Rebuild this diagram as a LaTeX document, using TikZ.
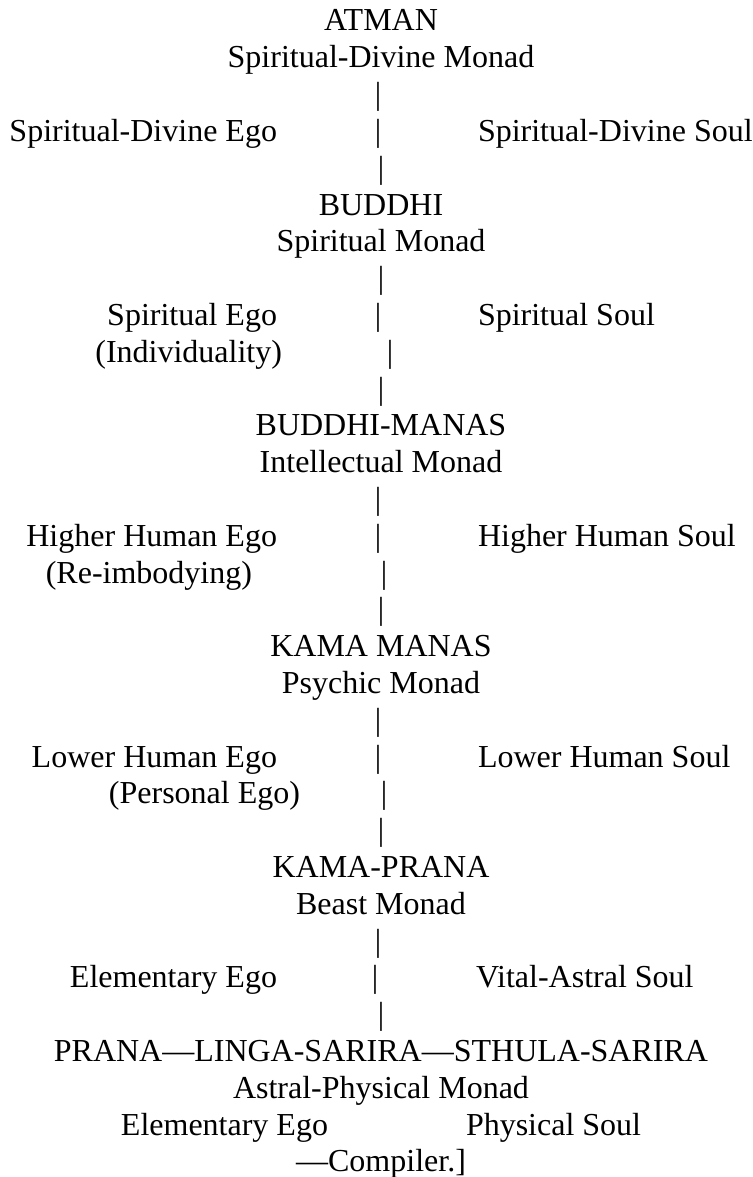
\documentclass[tikz,border=0pt]{standalone}
\usepackage{fontspec}
\setmainfont{Liberation Serif}
\begin{document}
\begin{tikzpicture}[x=1pt,y=-1pt,
  txt/.style={inner sep=0pt, outer sep=0pt, font=\fontsize{32}{38}\selectfont, anchor=base},
  lft/.style={txt, anchor=base east},
  rgt/.style={txt, anchor=base west},
  bar/.style={txt, anchor=base}]
\useasboundingbox (0,0) rectangle (752,1177);
% ATMAN
\node[txt] (atman) at (381,31) {ATMAN};
\node[txt] (atmanm) at (381,67.8) {Spiritual-Divine Monad};
\node[bar] (p1) at (378,104.6) {|};
\node[lft] (sde) at (277,141.4) {Spiritual-Divine Ego};
\node[bar] (p2) at (378,141.4) {|};
\node[rgt] (sds) at (478,141.4) {Spiritual-Divine Soul};
\node[bar] (p3) at (381,178.2) {|};
% BUDDHI
\node[txt] (buddhi) at (381,215) {BUDDHI};
\node[txt] (buddhim) at (381,251.8) {Spiritual Monad};
\node[bar] (p4) at (381,288.6) {|};
\node[lft] (se) at (277,325.4) {Spiritual Ego};
\node[bar] (p5) at (378,325.4) {|};
\node[rgt] (ss) at (478,325.4) {Spiritual Soul};
\node[lft] (ind) at (282,362.2) {(Individuality)};
\node[bar] (p6) at (390,362.2) {|};
\node[bar] (p7) at (381,399) {|};
% BUDDHI-MANAS
\node[txt] (bm) at (381,435.8) {BUDDHI-MANAS};
\node[txt] (bmm) at (381,472.6) {Intellectual Monad};
\node[bar] (p8) at (378,509.4) {|};
\node[lft] (hhe) at (277,546.2) {Higher Human Ego};
\node[bar] (p9) at (378,546.2) {|};
\node[rgt] (hhs) at (478,546.2) {Higher Human Soul};
\node[lft] (reimb) at (252,583) {(Re-imbodying)};
\node[bar] (p10) at (384,583) {|};
\node[bar] (p11) at (381,619.8) {|};
% KAMA MANAS
\node[txt] (km) at (381,656.6) {KAMA MANAS};
\node[txt] (kmm) at (381,693.4) {Psychic Monad};
\node[bar] (p12) at (378,730.2) {|};
\node[lft] (lhe) at (277,767) {Lower Human Ego};
\node[bar] (p13) at (378,767) {|};
\node[rgt] (lhs) at (478,767) {Lower Human Soul};
\node[lft] (pers) at (300,803.8) {(Personal Ego)};
\node[bar] (p14) at (384,803.8) {|};
\node[bar] (p15) at (381,840.6) {|};
% KAMA-PRANA
\node[txt] (kp) at (381,877.4) {KAMA-PRANA};
\node[txt] (kpm) at (381,914.2) {Beast Monad};
\node[bar] (p16) at (378,951) {|};
\node[lft] (ee) at (277,987.8) {Elementary Ego};
\node[bar] (p17) at (375,987.8) {|};
\node[rgt] (vas) at (476,987.8) {Vital-Astral Soul};
\node[bar] (p18) at (381,1024.6) {|};
% PRANA
\node[txt] (pls) at (381,1061.4) {PRANA—LINGA-SARIRA—STHULA-SARIRA};
\node[txt] (apm) at (381,1098.2) {Astral-Physical Monad};
\node[lft] (ee2) at (328,1135) {Elementary Ego};
\node[rgt] (ps) at (466,1135) {Physical Soul};
\node[txt] (comp) at (381,1171.8) {—Compiler.]};
\end{tikzpicture}
\end{document}
